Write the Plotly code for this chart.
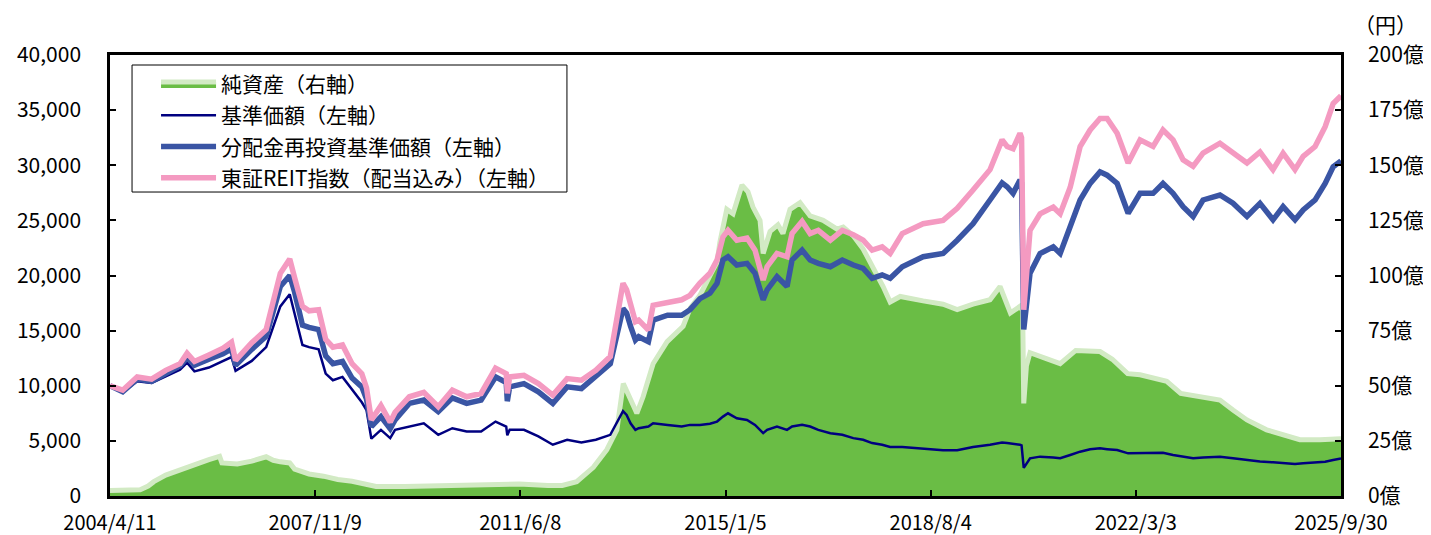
import plotly.graph_objects as go

# ---------------- data ----------------
line_dates = [
    "2004-04-11", "2004-07-01", "2004-10-01", "2005-01-01", "2005-04-01", "2005-07-01", "2005-08-15",
    "2005-10-01", "2006-01-01", "2006-04-01", "2006-05-25", "2006-06-20", "2006-10-01", "2007-01-01",
    "2007-04-01", "2007-05-31", "2007-07-01", "2007-08-20", "2007-10-01", "2007-12-01", "2008-01-15",
    "2008-03-01", "2008-05-01", "2008-07-01", "2008-09-01", "2008-10-01", "2008-11-01", "2009-01-01",
    "2009-03-01", "2009-04-01", "2009-07-01", "2009-10-01", "2010-01-01", "2010-04-01", "2010-07-01",
    "2010-10-01", "2011-01-01", "2011-03-10", "2011-03-17", "2011-04-01", "2011-07-01", "2011-10-01",
    "2012-01-01", "2012-04-01", "2012-07-01", "2012-10-01", "2013-01-01", "2013-03-23", "2013-04-15",
    "2013-05-10", "2013-06-10", "2013-07-01", "2013-09-01", "2013-10-01", "2014-01-01", "2014-04-01",
    "2014-05-24", "2014-07-26", "2014-09-28", "2014-11-12", "2014-12-20", "2015-01-21", "2015-03-18",
    "2015-05-22", "2015-07-12", "2015-09-02", "2015-09-27", "2015-11-29", "2016-02-01", "2016-03-04",
    "2016-05-07", "2016-06-27", "2016-08-18", "2016-11-03", "2017-01-18", "2017-03-29", "2017-05-31",
    "2017-07-27", "2017-09-29", "2017-11-19", "2018-02-04", "2018-06-17", "2018-10-22", "2019-01-20",
    "2019-05-01", "2019-08-17", "2019-11-02", "2019-12-04", "2020-01-11", "2020-02-24", "2020-03-05",
    "2020-03-19", "2020-04-28", "2020-07-01", "2020-09-23", "2020-11-06", "2021-01-09", "2021-03-13",
    "2021-05-16", "2021-07-18", "2021-09-01", "2021-11-04", "2022-01-13", "2022-03-30", "2022-06-21",
    "2022-08-23", "2022-10-26", "2022-12-29", "2023-03-03", "2023-05-05", "2023-08-21", "2023-11-12",
    "2024-02-09", "2024-05-02", "2024-07-24", "2024-09-26", "2024-12-11", "2025-02-01", "2025-04-18",
    "2025-06-21", "2025-08-11", "2025-09-30",
]

reit_index = [
    10000, 9600, 10800, 10600, 11400, 12000, 12950,
    12200, 12800, 13400, 13950, 12300, 13900, 15100,
    20200, 21500, 19800, 17200, 16800, 16900, 14200,
    13500, 13700, 12000, 11100, 9800, 6900, 8200,
    6700, 7600, 9000, 9400, 8100, 9600, 9000,
    9300, 11600, 11100, 9300, 10800, 10950, 10200,
    9150, 10650, 10500, 11400, 12650, 19300, 18700,
    17500, 15800, 15950, 15050, 17300, 17600, 17800,
    18200, 19300, 20200, 21400, 23500, 24100, 23200,
    23400, 22300, 19600, 20800, 22000, 21700, 23800,
    24900, 23800, 24100, 23200, 24100, 23700, 23200,
    22300, 22600, 22000, 23800, 24700, 25000, 26100,
    27750, 29600, 32300, 31700, 31500, 32900, 32500,
    16900, 24100, 25600, 26200, 25600, 28000, 31700,
    33200, 34250, 34250, 32900, 30200, 32300, 31700,
    33200, 32300, 30500, 29900, 31100, 32000, 31100,
    30200, 31200, 29600, 31100, 29600, 30800, 31700,
    33500, 35600, 36300,
]

nav_reinvested = [
    10000, 9450, 10600, 10400, 11100, 11800, 12550,
    11850, 12400, 12900, 13350, 11850, 13300, 14500,
    19000, 20000, 18500, 15500, 15300, 15100, 12700,
    12000, 12200, 10700, 9900, 8800, 6300, 7200,
    6100, 6900, 8400, 8700, 7650, 8900, 8400,
    8700, 10800, 10300, 8600, 9900, 10200, 9450,
    8400, 9900, 9750, 10800, 12000, 17000, 16600,
    15400, 14150, 14450, 14000, 15950, 16400, 16400,
    16900, 17900, 18400, 19300, 21400, 21700, 20950,
    21100, 20200, 17800, 18700, 19900, 19000, 21400,
    22300, 21400, 21100, 20800, 21400, 20950, 20650,
    19750, 20050, 19750, 20800, 21700, 22000, 23200,
    24700, 26850, 28400, 28050, 27450, 28650, 28400,
    15100, 20200, 22000, 22600, 22000, 24400, 26850,
    28350, 29400, 29100, 28350, 25650, 27450, 27450,
    28350, 27450, 26250, 25350, 26850, 27300, 26550,
    25350, 26550, 25050, 26250, 25050, 25950, 26850,
    28350, 29850, 30400,
]

nav = [
    10000, 9400, 10400, 10250, 10850, 11450, 12100,
    11300, 11650, 12200, 12600, 11350, 12250, 13500,
    17200, 18300, 16600, 13700, 13500, 13300, 11100,
    10500, 10800, 9700, 8500, 7800, 5200, 6000,
    5250, 6000, 6300, 6600, 5550, 6150, 5850,
    5850, 6750, 6300, 5500, 6000, 6000, 5400,
    4650, 5100, 4850, 5100, 5550, 7700, 7350,
    6600, 6000, 6150, 6300, 6600, 6450, 6300,
    6450, 6450, 6550, 6750, 7200, 7500, 7050,
    6900, 6450, 5700, 6000, 6300, 6000, 6300,
    6450, 6300, 6000, 5700, 5550, 5250, 5100,
    4800, 4650, 4450, 4450, 4300, 4150, 4150,
    4450, 4650, 4850, 4800, 4750, 4650, 4600,
    2550, 3420, 3570, 3500, 3420, 3720, 4020,
    4240, 4320, 4250, 4170, 3870, 3870, 3870,
    3920, 3720, 3570, 3420, 3500, 3570, 3420,
    3270, 3120, 3050, 2960, 2900, 2960, 3050,
    3110, 3270, 3400,
]

asset_dates = [
    "2004-04-11", "2004-10-20", "2004-12-10", "2005-01-15", "2005-04-01", "2005-07-01", "2005-10-01",
    "2006-01-01", "2006-03-10", "2006-03-25", "2006-07-01", "2006-10-01", "2007-01-01", "2007-02-15",
    "2007-04-01", "2007-05-31", "2007-07-01", "2007-10-01", "2008-01-01", "2008-04-01", "2008-07-01",
    "2008-10-01", "2008-12-01", "2009-06-01", "2010-01-01", "2010-07-01", "2011-01-01", "2011-06-01",
    "2011-12-01", "2012-03-01", "2012-06-01", "2012-09-15", "2012-12-10", "2013-02-12", "2013-03-25",
    "2013-05-08", "2013-06-19", "2013-07-29", "2013-08-24", "2013-10-01", "2013-12-29", "2014-04-10",
    "2014-05-24", "2014-07-26", "2014-09-28", "2014-11-12", "2014-11-30", "2015-01-13", "2015-02-22",
    "2015-04-20", "2015-05-28", "2015-06-29", "2015-08-13", "2015-09-02", "2015-10-16", "2015-12-05",
    "2016-01-06", "2016-02-20", "2016-04-24", "2016-06-27", "2016-09-18", "2016-12-16", "2017-01-24",
    "2017-03-29", "2017-05-31", "2017-08-03", "2017-10-05", "2017-11-19", "2018-01-22", "2018-06-17",
    "2018-10-22", "2019-01-20", "2019-05-01", "2019-08-17", "2019-10-20", "2019-12-25", "2020-02-24",
    "2020-03-12", "2020-03-19", "2020-04-05", "2020-04-28", "2020-08-01", "2020-11-06", "2021-02-13",
    "2021-06-22", "2021-07-18", "2021-10-04", "2022-01-10", "2022-03-30", "2022-06-21", "2022-09-16",
    "2022-12-14", "2023-04-13", "2023-08-21", "2023-11-12", "2024-02-09", "2024-06-13", "2024-10-20",
    "2025-01-11", "2025-05-18", "2025-09-30",
]

net_assets = [
    2.5, 2.8, 4.5, 6.5, 9.5, 12.0, 14.3,
    16.5, 18.0, 15.0, 14.5, 15.8, 17.8, 16.2,
    15.5, 15.0, 12.2, 10.0, 9.0, 7.5, 6.7,
    5.2, 4.3, 4.3, 4.5, 4.8, 5.0, 5.4,
    4.8, 4.8, 6.5, 13.0, 21.0, 30.0, 51.0,
    44.0, 37.5, 45.0, 51.0, 60.0, 70.0, 77.0,
    85.0, 91.0, 100.0, 106.0, 115.0, 130.0, 128.0,
    141.0, 138.0, 131.0, 125.0, 110.0, 120.0, 123.0,
    119.0, 130.0, 133.0, 127.0, 125.0, 121.0, 122.0,
    118.0, 112.0, 104.0, 95.0, 88.0, 90.5, 88.5,
    87.0, 84.5, 87.0, 89.0, 95.0, 83.0, 86.0,
    84.0, 42.0, 59.0, 65.0, 62.5, 60.0, 66.0,
    66.0, 65.5, 62.0, 55.5, 55.0, 53.5, 52.0,
    46.5, 45.0, 43.5, 39.0, 34.5, 30.0, 27.0,
    25.5, 25.5, 26.0,
]

x_tick_dates = ["2004-04-11", "2007-11-09", "2011-06-08", "2015-01-05", "2018-08-04", "2022-03-03", "2025-09-30"]
x_tick_labels = ["2004/4/11", "2007/11/9", "2011/6/8", "2015/1/5", "2018/8/4", "2022/3/3", "2025/9/30"]
right_ticks = [0, 25, 50, 75, 100, 125, 150, 175, 200]
right_tick_labels = [f"{v}億" for v in right_ticks]

names = ["純資産（右軸）", "基準価額（左軸）", "分配金再投資基準価額（左軸）", "東証REIT指数（配当込み）（左軸）"]

# ---------------- figure ----------------
FONT = "Noto Sans CJK JP"
fig = go.Figure()

fig.add_trace(go.Scatter(
    x=asset_dates, y=net_assets, name=names[0], mode="lines",
    fill="tozeroy", fillcolor="#6ABD45",
    line=dict(color="#D2EAC4", width=5), yaxis="y", legendgroup="a",
))
fig.add_trace(go.Scatter(
    x=line_dates, y=nav, name=names[1], mode="lines",
    line=dict(color="#000080", width=2.5), yaxis="y2", legendgroup="b",
))
fig.add_trace(go.Scatter(
    x=line_dates, y=nav_reinvested, name=names[2], mode="lines",
    line=dict(color="#3A55A4", width=5.5), yaxis="y2", legendgroup="c",
))
fig.add_trace(go.Scatter(
    x=line_dates, y=reit_index, name=names[3], mode="lines",
    line=dict(color="#F49AC1", width=5.5), yaxis="y2", legendgroup="d",
))

axis_common = dict(
    showgrid=False, zeroline=False, showline=True, linecolor="black", linewidth=2.5,
    ticks="inside", ticklen=6, tickwidth=2, tickcolor="black", automargin=False,
    tickfont=dict(family=FONT, size=21, color="black"),
)

fig.update_layout(
    width=1431, height=535,
    margin=dict(l=102, r=98, t=47, b=47),
    paper_bgcolor="white", plot_bgcolor="white",
    font=dict(family=FONT, color="black"),
    xaxis=dict(
        type="date", range=["2004-04-11", "2025-09-30"],
        tickmode="array", tickvals=x_tick_dates, ticktext=x_tick_labels,
        mirror=True, ticklabelstandoff=7,
        **{**axis_common, "tickfont": dict(family=FONT, size=20, color="black")},
    ),
    yaxis=dict(
        side="right", range=[0, 200], tickmode="array",
        tickvals=right_ticks, ticktext=right_tick_labels,
        ticklabelstandoff=20, **axis_common,
    ),
    yaxis2=dict(
        side="left", overlaying="y", range=[0, 40000], dtick=5000,
        tickformat=",d", ticklabelstandoff=22, **axis_common,
    ),
    legend=dict(
        x=0.0374, y=0.980, xanchor="left", yanchor="top",
        bgcolor="rgba(0,0,0,0)", borderwidth=0,
        font=dict(family=FONT, size=21, color="black"),
        traceorder="grouped", tracegroupgap=1, itemwidth=55,
    ),
    showlegend=True,
    shapes=[dict(
        type="rect", xref="paper", yref="paper",
        x0=0.0179, x1=0.3712, y0=0.6893, y1=0.9773,
        line=dict(color="black", width=1), fillcolor="white", layer="above",
    )],
    annotations=[dict(
        text="（円）", xref="paper", yref="paper", x=1.0365, y=1.070,
        xanchor="center", yanchor="middle",
        showarrow=False, font=dict(family=FONT, size=21, color="black"),
    )],
)

fig.write_html("out.html")
